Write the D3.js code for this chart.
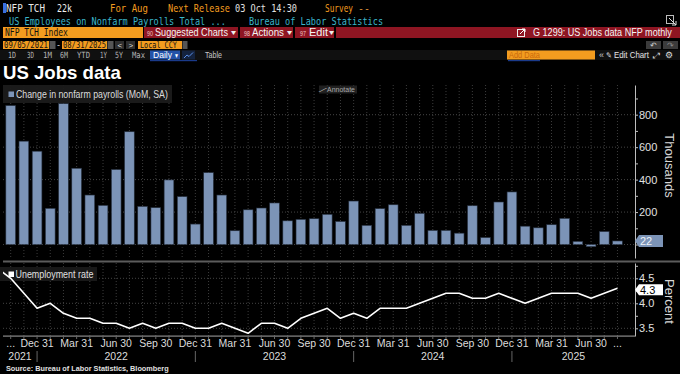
<!DOCTYPE html>
<html>
<head>
<meta charset="utf-8">
<script src="https://cdn.jsdelivr.net/npm/d3@7"></script>
<style>
  body { margin: 0; background: #000; }
  svg { display: block; }
  text { font-family: "Liberation Sans", Arial, sans-serif; }
</style>
</head>
<body>
<script>
var svgWidth = 680;
var svgHeight = 374;

// Months on the chart, Sep 2021 .. Aug 2025
var months = [
  "2021-09", "2021-10", "2021-11", "2021-12",
  "2022-01", "2022-02", "2022-03", "2022-04", "2022-05", "2022-06",
  "2022-07", "2022-08", "2022-09", "2022-10", "2022-11", "2022-12",
  "2023-01", "2023-02", "2023-03", "2023-04", "2023-05", "2023-06",
  "2023-07", "2023-08", "2023-09", "2023-10", "2023-11", "2023-12",
  "2024-01", "2024-02", "2024-03", "2024-04", "2024-05", "2024-06",
  "2024-07", "2024-08", "2024-09", "2024-10", "2024-11", "2024-12",
  "2025-01", "2025-02", "2025-03", "2025-04", "2025-05", "2025-06",
  "2025-07", "2025-08"
];

// Change in nonfarm payrolls (MoM, SA), thousands, Oct 2021 .. Aug 2025
var payrolls = [
  856, 637, 575,
  223, 868, 470, 305, 241, 462, 695, 235, 227, 398, 295, 126,
  443, 305, 85, 214, 225, 256, 146, 155, 159, 186, 142, 268,
  118, 221, 245, 118, 192, 87, 87, 70, 239, 43, 262, 324,
  113, 103, 122, 161, 19, -13, 80, 22
];

// Unemployment rate, percent, Sep 2021 .. Aug 2025
var unemployment = [
  4.7, 4.5, 4.2, 3.9,
  4.0, 3.8, 3.7, 3.7, 3.6, 3.6, 3.5, 3.6, 3.5, 3.6, 3.6, 3.5,
  3.5, 3.6, 3.5, 3.4, 3.6, 3.6, 3.5, 3.7, 3.8, 3.9, 3.7, 3.8,
  3.7, 3.9, 3.9, 3.9, 4.0, 4.1, 4.2, 4.2, 4.1, 4.1, 4.2, 4.1,
  4.0, 4.1, 4.2, 4.2, 4.2, 4.1, 4.2, 4.3
];

// bottom axis labels
var tickMonths = ["2021-10", "2021-12", "2022-03", "2022-06", "2022-09", "2022-12",
  "2023-03", "2023-06", "2023-09", "2023-12", "2024-03", "2024-06", "2024-09",
  "2024-12", "2025-03", "2025-06", "2025-08"];
var tickLabels = ["...", "Dec 31", "Mar 31", "Jun 30", "Sep 30", "Dec 31",
  "Mar 31", "Jun 30", "Sep 30", "Dec 31", "Mar 31", "Jun 30", "Sep 30",
  "Dec 31", "Mar 31", "Jun 30", "..."];
var years = ["2021", "2022", "2023", "2024", "2025"];
var yearEnds = ["2021-12", "2022-12", "2023-12", "2024-12"];

var payTicks = [200, 400, 600, 800];
var urTicks = [3.5, 4.0, 4.5];

var barColor = "#7c94b7";
var orange = "#f39c1f";
var mono = "'DejaVu Sans Mono', monospace";

var svg = d3.select("body")
  .append("svg")
  .attr("width", svgWidth)
  .attr("height", svgHeight);

svg.append("rect").attr("width", svgWidth).attr("height", svgHeight).attr("fill", "#000");

// text helper: o.w squeezes the text to that width with a horizontal scale
function txt(g, x, y, s, o) {
  o = o || {};
  var t = g.append("text")
    .attr("x", 0)
    .attr("y", 0)
    .attr("fill", o.fill || "#ddd")
    .style("font-size", (o.size || 11) + "px")
    .text(s);
  if (o.family) t.style("font-family", o.family);
  if (o.weight) t.style("font-weight", o.weight);
  if (o.anchor) t.attr("text-anchor", o.anchor);
  var sx = 1;
  if (o.w) {
    var natural = t.node().getComputedTextLength();
    if (natural > 0) sx = o.w / natural;
  }
  t.attr("transform", `translate(${x}, ${y}) scale(${sx}, 1)`);
  return t;
}

function box(g, x, y, w, h, fill) {
  return g.append("rect").attr("x", x).attr("y", y).attr("width", w).attr("height", h).attr("fill", fill);
}

// ---------- Bloomberg header ----------
var head = svg.append("g");

// row 1
box(head, 3, 3, 3, 10, "#3a6fe0");
txt(head, 6, 12.3, "NFP TCH", {w: 39, fill: "#e8e8e8", family: mono});
txt(head, 57, 12.3, "22k", {w: 15, fill: "#f2f2f2", family: mono});
txt(head, 110, 12.3, "For Aug", {w: 38, fill: orange, family: mono});
txt(head, 168, 12.3, "Next Release", {w: 62, fill: orange, family: mono});
txt(head, 235, 12.3, "03 Oct 14:30", {w: 62, fill: "#e0e0e0", family: mono});
txt(head, 325, 12.3, "Survey", {w: 28, fill: orange, family: mono});
txt(head, 358, 12.3, "--", {w: 12, fill: "#d8903a", family: mono});

// row 2
txt(head, 9, 24.5, "US Employees on Nonfarm Payrolls Total ...", {w: 217, fill: "#3bb6cc", family: mono});
txt(head, 249, 24.5, "Bureau of Labor Statistics", {w: 134, fill: "#3bb6cc", family: mono});
head.append("rect").attr("x", 666.5).attr("y", 15.5).attr("width", 7).attr("height", 8)
  .attr("fill", "none").attr("stroke", "#bbb");
head.append("path").attr("d", "M669,18 L676,25 M676,21 V25 H672").attr("stroke", "#ddd").attr("fill", "none");

// row 3
box(head, 3, 27, 140, 11, orange);
txt(head, 5, 35.8, "NFP TCH Index", {w: 63, fill: "#111", family: mono});
box(head, 144, 27, 94, 11, "#8e1522");
box(head, 240, 27, 53, 11, "#8e1522");
box(head, 295, 27, 39, 11, "#8e1522");
box(head, 336, 27, 344, 11, "#8e1522");
txt(head, 147, 35.5, "90", {w: 6, size: 8, fill: "#f1c6c6"});
txt(head, 155, 35.8, "Suggested Charts", {w: 73, size: 10.5, fill: "#f4f4f4"});
txt(head, 231, 35, "\u25BE", {w: 5, size: 8, fill: "#eee"});
txt(head, 244, 35.5, "98", {w: 6, size: 8, fill: "#f1c6c6"});
txt(head, 252, 35.8, "Actions", {w: 32, size: 10.5, fill: "#f4f4f4"});
txt(head, 287, 35, "\u25BE", {w: 5, size: 8, fill: "#eee"});
txt(head, 300, 35.5, "97", {w: 6, size: 8, fill: "#f1c6c6"});
txt(head, 309, 35.8, "Edit", {w: 19, size: 10.5, fill: "#f4f4f4"});
txt(head, 329, 35, "\u25BE", {w: 5, size: 8, fill: "#eee"});
head.append("rect").attr("x", 517.5).attr("y", 29.5).attr("width", 7).attr("height", 7)
  .attr("fill", "none").attr("stroke", "#eee");
head.append("path").attr("d", "M520,34 L525,29 M522,29 H525 V32").attr("stroke", "#fff").attr("fill", "none");
txt(head, 533, 35.8, "G 1299: US Jobs data NFP mothly", {w: 139, size: 10.5, fill: "#f4f4f4"});

// row 4
box(head, 3, 41, 46, 8, orange);
txt(head, 4, 48.2, "09/05/2021", {w: 44, size: 9, fill: "#111", family: mono});
box(head, 49.5, 41, 6, 8, "#555");
txt(head, 57, 48, "-", {size: 9, fill: "#ddd"});
box(head, 62, 41, 45, 8, orange);
txt(head, 63, 48.2, "08/31/2025", {w: 43, size: 9, fill: "#111", family: mono});
box(head, 107.5, 41, 6, 8, "#555");
box(head, 115, 41, 9, 8, "#2e2e2e");
box(head, 126, 41, 9, 8, "#2e2e2e");
txt(head, 117.5, 48, "<", {size: 8, fill: "#ddd"});
txt(head, 128.5, 48, ">", {size: 8, fill: "#ddd"});
box(head, 138, 41, 44, 8, orange);
txt(head, 140, 48.2, "Local CCY", {w: 37, size: 9, fill: "#111", family: mono});
box(head, 182.5, 41, 5, 8, "#555");
box(head, 646, 41, 15, 8, "#3b3b3b");
box(head, 663, 41, 15, 8, "#3b3b3b");
txt(head, 650, 48, "\u21B6", {w: 7, size: 8, fill: "#ccc"});
txt(head, 667, 48, "\u21B7", {w: 7, size: 8, fill: "#888"});

// row 5
box(head, 0, 50, 680, 10, "#101010");
var ranges = [["1D", 8, 8], ["3D", 27, 7], ["1M", 43, 9], ["6M", 60, 8], ["YTD", 77, 13],
  ["1Y", 100, 7], ["5Y", 115, 8], ["Max", 132, 13]];
ranges.forEach(function(r) {
  txt(head, r[1], 57.8, r[0], {w: r[2], size: 8.5, fill: "#b4b4b4", family: mono});
});
box(head, 150, 50.5, 30, 9, "#2352a8");
txt(head, 153, 57.8, "Daily", {w: 19, size: 9, fill: "#fff"});
txt(head, 174, 57.6, "\u25BC", {w: 5, size: 6.5, fill: "#fff"});
box(head, 182, 50.5, 13, 9, "#14233f");
head.append("path").attr("d", "M184,58 L187,55 L189,56.5 L193,52.5").attr("stroke", "#5b8fe8").attr("fill", "none");
txt(head, 205, 57.8, "Table", {w: 17, size: 9, fill: "#c8c8c8"});
box(head, 150, 60, 47, 1.2, "#1a3a8a");
box(head, 507, 50.5, 88, 9, orange);
txt(head, 509, 58, "Add Data", {w: 31, size: 9, fill: "#c8680c"});
box(head, 508, 60, 32, 1.2, "#1a3a8a");
txt(head, 599, 58, "\u00AB", {w: 5, size: 9, fill: "#ccc"});
txt(head, 606, 58, "\u270E", {w: 6, size: 8, fill: "#ddd"});
txt(head, 614, 58, "Edit Chart", {w: 35, size: 9, fill: "#e6e6e6"});
txt(head, 653, 58, "\u2922", {w: 7, size: 8, fill: "#ccc"});
txt(head, 665, 58, "\u2699", {w: 8, size: 9, fill: "#ddd"});

// ---------- title ----------
txt(svg, 3, 79, "US Jobs data", {w: 118, size: 18, weight: "bold", fill: "#fff"});

// ---------- scales ----------
var plotLeft = 3, plotRight = 635;
var top1 = 85, bot1 = 258;
var top2 = 263, bot2 = 336;

var x = d3.scaleLinear().domain([0.417, 48.33]).range([plotLeft, plotRight]);
var yPay = d3.scaleLinear().domain([-83, 983]).range([bot1, top1]);
var yUr = d3.scaleLinear().domain([3.346, 4.806]).range([bot2, top2]);

function mx(m) { return x(months.indexOf(m)); }

var step = x(1) - x(0);
var barWidth = step * 0.735;
var gridIdx = d3.range(1, months.length);

// ---------- upper panel: payrolls ----------
var upper = svg.append("g");

upper.selectAll(".vgrid")
  .data(gridIdx)
  .enter()
  .append("line")
  .attr("x1", d => x(d)).attr("x2", d => x(d))
  .attr("y1", top1).attr("y2", bot1)
  .attr("stroke", "#3c3c3c")
  .attr("stroke-dasharray", "1,2");

upper.selectAll(".hgrid")
  .data([0].concat(payTicks))
  .enter()
  .append("line")
  .attr("x1", plotLeft).attr("x2", plotRight)
  .attr("y1", d => yPay(d)).attr("y2", d => yPay(d))
  .attr("stroke", "#444")
  .attr("stroke-dasharray", "1,2");

upper.selectAll(".bar")
  .data(payrolls)
  .enter()
  .append("rect")
  .classed("bar", true)
  .attr("x", (d, i) => mx(months[i + 1]) - barWidth / 2)
  .attr("width", barWidth)
  .attr("y", d => yPay(Math.max(d, 0)))
  .attr("height", d => Math.abs(yPay(d) - yPay(0)))
  .attr("fill", barColor)
  .attr("stroke", "#26303f")
  .attr("stroke-width", 0.6);

// legend
box(upper, 3, 85, 169, 18, "#1b1b1b").attr("opacity", 0.95);
box(upper, 8.5, 91.5, 5.5, 5.5, barColor);
txt(upper, 16, 97.8, "Change in nonfarm payrolls (MoM, SA)", {w: 152, size: 10, fill: "#dcdcdc"});

// annotate button
box(upper, 319, 85.5, 38, 8, "#202020");
txt(upper, 322, 91.8, "\u2215", {w: 3, size: 6, fill: "#aaa"});
txt(upper, 327, 91.8, "Annotate", {w: 28, size: 6.5, fill: "#aaa"});

// right axis
var payAxis = d3.axisRight(yPay)
  .tickValues(d3.range(0, 1000, 100))
  .tickSize(3)
  .tickSizeOuter(0)
  .tickPadding(1)
  .tickFormat(d => payTicks.indexOf(d) >= 0 ? d : "");

var pa = upper.append("g")
  .attr("transform", `translate(${plotRight}, 0)`)
  .call(payAxis);
pa.select(".domain").attr("stroke", "#bdbdbd");
pa.selectAll(".tick line").attr("stroke", "#bdbdbd");
pa.selectAll(".tick text")
  .attr("fill", "#e0e0e0")
  .style("font-size", "11px")
  .style("font-family", "'Liberation Sans', Arial, sans-serif");

upper.append("text")
  .attr("transform", `translate(665, ${(top1 + bot1) / 2 - 6}) rotate(90)`)
  .attr("text-anchor", "middle")
  .attr("fill", "#d8d8d8")
  .style("font-size", "13px")
  .text("Thousands");

// last value tag
var lastPay = payrolls[payrolls.length - 1];
var yp = yPay(lastPay);
upper.append("path")
  .attr("d", `M${plotRight},${yp} L${plotRight + 4},${yp - 6} H663 V${yp + 6} H${plotRight + 4} Z`)
  .attr("fill", barColor);
txt(upper, 640, yp + 4, String(lastPay), {size: 11, fill: "#eef2f8"});

// panel separator
box(svg, plotLeft, 260.5, svgWidth - plotLeft, 2, "#5c5c5c");

// ---------- lower panel: unemployment ----------
var lower = svg.append("g");

svg.append("clipPath")
  .attr("id", "clipBot")
  .append("rect")
  .attr("x", plotLeft).attr("y", top2)
  .attr("width", plotRight - plotLeft).attr("height", bot2 - top2);

lower.selectAll(".vgrid")
  .data(gridIdx)
  .enter()
  .append("line")
  .attr("x1", d => x(d)).attr("x2", d => x(d))
  .attr("y1", top2).attr("y2", bot2)
  .attr("stroke", "#3c3c3c")
  .attr("stroke-dasharray", "1,2");

lower.selectAll(".hgrid")
  .data(urTicks)
  .enter()
  .append("line")
  .attr("x1", plotLeft).attr("x2", plotRight)
  .attr("y1", d => yUr(d)).attr("y2", d => yUr(d))
  .attr("stroke", "#444")
  .attr("stroke-dasharray", "1,2");

// legend
box(lower, 0, 267, 97, 14, "#1b1b1b").attr("opacity", 0.9);
box(lower, 8.5, 271.5, 5.5, 5.5, "#fff");
txt(lower, 15.5, 277.5, "Unemployment rate", {w: 78, size: 10, fill: "#e0e0e0"});

var line = d3.line()
  .x((d, i) => mx(months[i]))
  .y(d => yUr(d));

lower.append("path")
  .datum(unemployment)
  .attr("clip-path", "url(#clipBot)")
  .attr("d", line)
  .attr("fill", "none")
  .attr("stroke", "#fff")
  .attr("stroke-width", 1.6)
  .attr("stroke-linejoin", "round");

var urAxis = d3.axisRight(yUr)
  .tickValues([3.5, 3.75, 4.0, 4.25, 4.5, 4.75])
  .tickSize(3)
  .tickSizeOuter(0)
  .tickPadding(1)
  .tickFormat(d => urTicks.indexOf(d) >= 0 ? d3.format(".1f")(d) : "");

var ua = lower.append("g")
  .attr("transform", `translate(${plotRight}, 0)`)
  .call(urAxis);
ua.select(".domain").attr("stroke", "#bdbdbd");
ua.selectAll(".tick line").attr("stroke", "#bdbdbd");
ua.selectAll(".tick text")
  .attr("fill", "#e0e0e0")
  .style("font-size", "11px")
  .style("font-family", "'Liberation Sans', Arial, sans-serif");

lower.append("text")
  .attr("transform", `translate(665, ${(top2 + bot2) / 2 + 2}) rotate(90)`)
  .attr("text-anchor", "middle")
  .attr("fill", "#d8d8d8")
  .style("font-size", "13px")
  .text("Percent");

var lastUr = unemployment[unemployment.length - 1];
var yu = yUr(lastUr) + 1.5;
lower.append("path")
  .attr("d", `M${plotRight},${yu} L${plotRight + 4},${yu - 5.5} H663 V${yu + 5.5} H${plotRight + 4} Z`)
  .attr("fill", "#fff");
txt(lower, 640, yu + 4, d3.format(".1f")(lastUr), {size: 11, fill: "#000"});

// ---------- x axis ----------
var xa = svg.append("g");

box(xa, plotLeft, bot2 - 0.5, plotRight - plotLeft, 1.2, "#8a8a8a");

xa.selectAll(".xtick")
  .data(gridIdx)
  .enter()
  .append("line")
  .attr("x1", d => x(d)).attr("x2", d => x(d))
  .attr("y1", bot2).attr("y2", bot2 + 3)
  .attr("stroke", "#666");

xa.selectAll(".xlabel")
  .data(tickMonths)
  .enter()
  .append("text")
  .attr("x", d => mx(d))
  .attr("y", 347.3)
  .attr("text-anchor", "middle")
  .attr("fill", "#dcdcdc")
  .style("font-size", "10.5px")
  .text((d, i) => tickLabels[i]);

xa.selectAll(".ysep")
  .data(yearEnds)
  .enter()
  .append("line")
  .attr("x1", d => mx(d)).attr("x2", d => mx(d))
  .attr("y1", 351).attr("y2", 362)
  .attr("stroke", "#666");

var bounds = [plotLeft].concat(yearEnds.map(mx)).concat([plotRight]);
xa.selectAll(".year")
  .data(years)
  .enter()
  .append("text")
  .attr("x", (d, i) => (bounds[i] + bounds[i + 1]) / 2)
  .attr("y", 360.3)
  .attr("text-anchor", "middle")
  .attr("fill", "#dcdcdc")
  .style("font-size", "10.5px")
  .text(d => d);

// footer
txt(svg, 6, 370.5, "Source: Bureau of Labor Statistics, Bloomberg", {w: 163, size: 7.5, weight: "bold", fill: "#e0e0e0"});
</script>
</body>
</html>
